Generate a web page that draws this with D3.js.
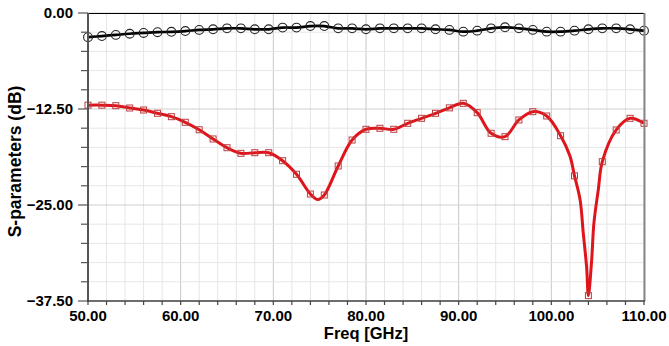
<!DOCTYPE html>
<html>
<head>
<meta charset="utf-8">
<script src="https://cdn.jsdelivr.net/npm/d3@7"></script>
<style>
  html, body { margin: 0; padding: 0; background: #fff; }
  svg { display: block; }
  text { font-family: "Liberation Sans", Arial, Helvetica, sans-serif; font-weight: bold; fill: #000; }
</style>
</head>
<body>
<svg id="chart" width="669" height="346"></svg>
<script>
// ---- data ----
const freqs = [50, 51.5, 53, 54.5, 56, 57.5, 59, 60.5, 62, 63.5, 65, 66.5, 68, 69.5, 71, 72.5,
  74, 75.5, 77, 78.5, 80, 81.5, 83, 84.5, 86, 87.5, 89, 90.5, 92, 93.5, 95, 96.5, 98, 99.5,
  101, 102.5, 104, 105.5, 107, 108.5, 110];
const sBlack = [-3.15, -3.0, -2.85, -2.7, -2.6, -2.5, -2.45, -2.35, -2.2, -2.12, -2.0, -2.0,
  -2.12, -2.12, -1.9, -1.9, -1.7, -1.7, -2.0, -2.0, -2.12, -2.0, -2.0, -2.0, -2.0, -2.12,
  -2.2, -2.43, -2.3, -2.0, -1.86, -2.0, -2.2, -2.43, -2.43, -2.3, -2.12, -2.0, -2.0, -2.12, -2.3];
const sRed = [-12.0, -12.0, -12.07, -12.37, -12.63, -13.06, -13.5, -14.23, -15.2, -16.4,
  -17.54, -18.27, -18.19, -18.19, -19.23, -21.0, -23.57, -23.7, -19.92, -16.54, -15.14,
  -15.01, -15.14, -14.36, -13.71, -13.06, -12.35, -11.76, -12.98, -15.66, -16.1, -13.93,
  -12.85, -13.41, -15.98, -21.2, -36.8, -19.36, -15.23, -13.71, -14.36];
// extra points on the red trace (no markers) read at the dips
const redExtraFreq = [74.8, 102.0, 103.1, 103.45, 103.8, 104.35, 104.6, 105.07];
const redExtraVal = [-24.3, -18.6, -24.3, -28.7, -33.0, -32.2, -27.3, -23.0];

const xTicks = [50, 60, 70, 80, 90, 100, 110];
const yTicks = [0, -12.5, -25, -37.5];
const xTitle = "Freq [GHz]";
const yTitle = "S-parameters (dB)";

// ---- layout ----
const L = 88, R = 644, T = 13, B = 301;
const svg = d3.select("#chart");
const x = d3.scaleLinear().domain([50, 110]).range([L, R]);
const y = d3.scaleLinear().domain([-37.5, 0]).range([B, T]);

// grid
const g = svg.append("g");
const xMinor = d3.range(50, 110.001, 2);
const yMinor = d3.range(-37.5, 0.001, 2.5);
g.selectAll(".vx").data(xMinor).join("line")
  .attr("x1", d => x(d)).attr("x2", d => x(d)).attr("y1", T).attr("y2", B)
  .attr("stroke", d => (Math.abs(d % 10) < 1e-6) ? "#c8c8c8" : "#e6e6e6").attr("stroke-width", 1);
g.selectAll(".hy").data(yMinor).join("line")
  .attr("x1", L).attr("x2", R).attr("y1", d => y(d)).attr("y2", d => y(d))
  .attr("stroke", d => yTicks.some(t => Math.abs(t - d) < 1e-6) ? "#cfcfcf" : "#e6e6e6").attr("stroke-width", 1);

// lines
const blackPts = freqs.map((f, i) => [f, sBlack[i]]);
const redPts = freqs.map((f, i) => [f, sRed[i]])
  .concat(redExtraFreq.map((f, i) => [f, redExtraVal[i]]))
  .sort((a, b) => a[0] - b[0]);
const line = d3.line().x(d => x(d[0])).y(d => y(d[1])).curve(d3.curveCatmullRom.alpha(0.5));

svg.append("path").datum(redPts).attr("d", line)
  .attr("fill", "none").attr("stroke", "#e0141b").attr("stroke-width", 3).attr("stroke-linejoin", "round");
svg.append("path").datum(blackPts).attr("d", line)
  .attr("fill", "none").attr("stroke", "#000").attr("stroke-width", 2.7);

// markers
svg.selectAll(".sq").data(freqs).join("rect")
  .attr("x", (d) => x(d) - 3).attr("y", (d, i) => y(sRed[i]) - 3)
  .attr("width", 6).attr("height", 6)
  .attr("fill", "none").attr("stroke", "#b84040").attr("stroke-width", 1);
svg.selectAll(".ci").data(freqs).join("circle")
  .attr("cx", d => x(d)).attr("cy", (d, i) => y(sBlack[i])).attr("r", 4.4)
  .attr("fill", "none").attr("stroke", "#222").attr("stroke-width", 1.1);

// frame
svg.append("line").attr("x1", L).attr("x2", R).attr("y1", T + 0.5).attr("y2", T + 0.5)
  .attr("stroke", "#000").attr("stroke-width", 1);
svg.append("line").attr("x1", R + 0.5).attr("x2", R + 0.5).attr("y1", T).attr("y2", B)
  .attr("stroke", "#888").attr("stroke-width", 2);

// y axis
svg.append("line").attr("x1", L).attr("x2", L).attr("y1", T).attr("y2", B + 1)
  .attr("stroke", "#555").attr("stroke-width", 2);
svg.selectAll(".yt").data(yMinor).join("line")
  .attr("x1", d => yTicks.some(t => Math.abs(t - d) < 1e-6) ? L - 10 : L - 7).attr("x2", L)
  .attr("y1", d => y(d)).attr("y2", d => y(d)).attr("stroke", "#555").attr("stroke-width", 1.2);
svg.selectAll(".yl").data(yTicks).join("text")
  .attr("x", 73).attr("y", d => y(d)).attr("dy", "0.36em")
  .attr("text-anchor", "end").attr("font-size", 15)
  .text(d => d3.format(".2f")(d));

// x axis
svg.append("line").attr("x1", L - 1).attr("x2", R + 1).attr("y1", B).attr("y2", B)
  .attr("stroke", "#444").attr("stroke-width", 1.6);
svg.selectAll(".xt").data(xMinor).join("line")
  .attr("x1", d => x(d)).attr("x2", d => x(d)).attr("y1", B).attr("y2", B + 4)
  .attr("stroke", "#444").attr("stroke-width", 1.2);
svg.selectAll(".xl").data(xTicks).join("text")
  .attr("x", d => x(d)).attr("y", 320.5)
  .attr("text-anchor", "middle").attr("font-size", 15)
  .text(d => d3.format(".2f")(d));

// titles
svg.append("text").attr("x", 366).attr("y", 339).attr("text-anchor", "middle")
  .attr("font-size", 16.5).text(xTitle);
svg.append("text").attr("transform", "translate(21,161.5) rotate(-90)")
  .attr("text-anchor", "middle").attr("font-size", 17.5).text(yTitle);
</script>
</body>
</html>
